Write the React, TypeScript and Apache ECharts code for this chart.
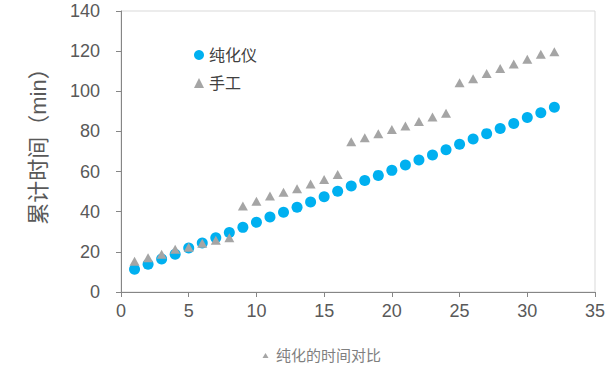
import React, { useEffect, useRef } from "react";
import * as echarts from "echarts";

const xValues = [1, 2, 3, 4, 5, 6, 7, 8, 9, 10, 11, 12, 13, 14, 15, 16, 17, 18, 19, 20, 21, 22, 23, 24, 25, 26, 27, 28, 29, 30, 31, 32];
const purifier = [11.3, 13.8, 16.4, 18.8, 21.9, 24.4, 27, 29.6, 32.2, 34.7, 37.4, 39.7, 42.2, 44.8, 47.5, 50.2, 52.8, 55.5, 58.1, 60.6, 63.3, 65.8, 68.3, 70.9, 73.6, 76.2, 78.9, 81.5, 84, 86.9, 89.3, 92];
const manual = [15.3, 17.1, 18.8, 21.3, 22.3, 24.3, 25.8, 27, 42.8, 45.2, 47.8, 49.7, 51.5, 53.8, 56, 58.6, 74.9, 76.9, 78.9, 80.9, 82.7, 84.9, 87.2, 89, 104.3, 106.3, 108.8, 111.3, 113.6, 116, 118.4, 119.7];
const seriesNames = ["纯化仪", "手工"];
const yAxisTitle = "累计时间（min）";
const footerTitle = "纯化的时间对比";

const FONT = 'Arial, "Liberation Sans", "Noto Sans CJK SC", sans-serif';

export default function App() {
  const ref = useRef<HTMLDivElement>(null);
  useEffect(() => {
    if (!ref.current) return;
    const chart = echarts.init(ref.current, null, { renderer: "svg" });
    chart.setOption({
      animation: false,
      backgroundColor: "#ffffff",
      grid: {
        left: 121,
        top: 11,
        right: 18,
        bottom: 74,
        show: true,
        borderColor: "#d9d9d9",
        borderWidth: 1,
      },
      legend: {
        orient: "vertical",
        left: 194,
        top: 47,
        padding: 0,
        itemWidth: 10,
        itemHeight: 10,
        itemGap: 12,
        textStyle: { fontSize: 16, color: "#404040", fontFamily: FONT },
        data: seriesNames,
      },
      xAxis: {
        type: "value",
        min: 0,
        max: 35,
        interval: 5,
        splitLine: { show: false },
        axisLine: { show: true, lineStyle: { color: "#868686", width: 1 } },
        axisTick: { show: true, length: 5, lineStyle: { color: "#868686" } },
        axisLabel: { fontSize: 18, color: "#595959", margin: 10, fontFamily: FONT },
      },
      yAxis: {
        type: "value",
        min: 0,
        max: 140,
        interval: 20,
        splitLine: { show: false },
        axisLine: { show: true, lineStyle: { color: "#868686", width: 1 } },
        axisTick: { show: true, length: 5, lineStyle: { color: "#868686" } },
        axisLabel: { fontSize: 18, color: "#595959", margin: 21, fontFamily: FONT },
      },
      series: [
        {
          name: seriesNames[0],
          type: "scatter",
          symbol: "circle",
          symbolSize: 11,
          itemStyle: { color: "#00B0F0", opacity: 1 },
          data: xValues.map((x, i) => [x, purifier[i]]),
          z: 2,
        },
        {
          name: seriesNames[1],
          type: "scatter",
          symbol: "triangle",
          symbolSize: [10, 9],
          itemStyle: { color: "#A5A5A5", opacity: 1 },
          data: xValues.map((x, i) => [x, manual[i]]),
          z: 3,
        },
      ],
      graphic: [
        {
          type: "text",
          x: 38,
          y: 141,
          rotation: Math.PI / 2,
          style: {
            text: yAxisTitle,
            font: `22px ${FONT}`,
            fill: "#595959",
            align: "center",
            verticalAlign: "middle",
          },
        },
        {
          type: "polygon",
          shape: { points: [[262.5, 358], [268.5, 358], [265.5, 353]] },
          style: { fill: "#A5A5A5" },
        },
        {
          type: "text",
          x: 276,
          y: 355,
          style: {
            text: footerTitle,
            font: `15px ${FONT}`,
            fill: "#7f7f7f",
            align: "left",
            verticalAlign: "middle",
          },
        },
      ],
    });
    return () => chart.dispose();
  }, []);
  return <div ref={ref} style={{ width: 613, height: 366, position: "absolute", left: 0, top: 0 }} />;
}
